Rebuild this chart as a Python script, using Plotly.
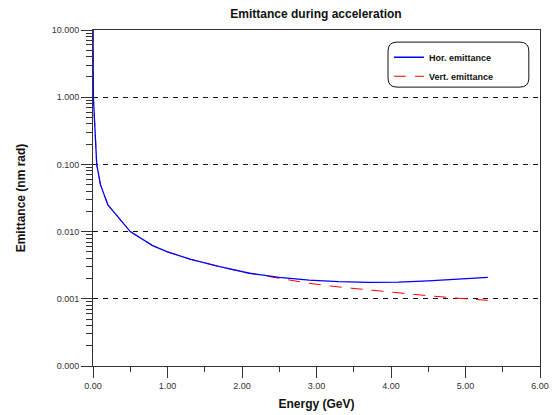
import plotly.graph_objects as go

energy = [0.0005, 0.005, 0.05, 0.1, 0.2, 0.5, 0.8, 1.0, 1.3, 1.7, 2.1, 2.5, 2.9, 3.3, 3.7, 4.1, 4.5, 4.9, 5.3]
hor_emit = [10, 1.0, 0.1, 0.05, 0.025, 0.010, 0.0062, 0.0050, 0.0039, 0.0030, 0.0024,
            0.00208, 0.0019, 0.00180, 0.00176, 0.00177, 0.00185, 0.00196, 0.00209]
vert_emit = [10, 1.0, 0.1, 0.05, 0.025, 0.010, 0.0062, 0.0050, 0.0039, 0.0030, 0.0024,
             0.0020, 0.0017, 0.0015, 0.00135, 0.00122, 0.00111, 0.00102, 0.00095]

y_tickvals = [0.0001, 0.001, 0.01, 0.1, 1, 10]
y_ticktext = ["0.000", "0.001", "0.010", "0.100", "1.000", "10.000"]
y_minor = [m * 10 ** e for e in range(-4, 1) for m in range(2, 10)]

font_family = "Liberation Sans, Arial, sans-serif"

# page body has an 8px margin, so the figure is sized to fill the rest of the window
W, H = 551, 407

fig = go.Figure()
fig.add_trace(go.Scatter(x=energy, y=vert_emit, mode="lines", name="Vert. emittance",
                         line=dict(color="#ff0000", width=1, dash="12px,9px"),
                         legendrank=2))
fig.add_trace(go.Scatter(x=energy, y=hor_emit, mode="lines", name="Hor. emittance",
                         line=dict(color="#0000ff", width=1.3),
                         legendrank=1))

x0, x1, y0, y1 = 0.66, 0.975, 0.83, 0.964
r = 0.02
ry = r * 447 / 336
box = (f"M {x0+r},{y1} L {x1-r},{y1} Q {x1},{y1} {x1},{y1-ry} L {x1},{y0+ry} Q {x1},{y0} {x1-r},{y0} "
       f"L {x0+r},{y0} Q {x0},{y0} {x0},{y0+ry} L {x0},{y1-ry} Q {x0},{y1} {x0+r},{y1} Z")

fig.update_layout(
    width=W, height=H,
    margin=dict(l=85, r=19, t=22, b=49, autoexpand=False),
    paper_bgcolor="white", plot_bgcolor="white",
    font=dict(family=font_family, color="#222"),
    title=dict(text="Emittance during acceleration", x=(316 - 8) / W, xanchor="center",
               y=1 - 6 / H, yanchor="middle",
               font=dict(size=12, weight="bold", color="#111")),
    showlegend=True,
    legend=dict(x=0.662, y=0.962, xanchor="left", yanchor="top",
                bgcolor="rgba(255,255,255,0)", borderwidth=0,
                font=dict(size=9, weight="bold", color="#111"),
                itemwidth=30, tracegroupgap=0),
    shapes=[dict(type="path", xref="paper", yref="paper", path=box,
                 line=dict(color="#111", width=1), layer="above")],
)

fig.update_xaxes(
    range=[0, 6], dtick=1, tickformat=".2f", automargin=False,
    showline=True, linecolor="#333", linewidth=1, mirror=True,
    ticks="outside", ticklen=11, tickcolor="#333",
    minor=dict(dtick=0.5, ticks="outside", ticklen=5, tickcolor="#333", showgrid=False),
    showgrid=False, zeroline=False,
    tickfont=dict(size=9, color="#333"),
    title=dict(text="Energy (GeV)", font=dict(size=12, weight="bold", color="#111"), standoff=9),
)
fig.update_yaxes(
    type="log", range=[-4, 1], automargin=False,
    tickmode="array", tickvals=y_tickvals, ticktext=y_ticktext,
    showline=True, linecolor="#333", linewidth=1, mirror=True,
    ticks="outside", ticklen=11, tickcolor="#333",
    minor=dict(tickmode="array", tickvals=y_minor, ticks="outside", ticklen=6, tickcolor="#333", showgrid=False),
    showgrid=True, gridcolor="#111", gridwidth=1, griddash="5px,5px",
    zeroline=False,
    tickfont=dict(size=9, color="#333"),
    title=dict(text="Emittance (nm rad)", font=dict(size=12, weight="bold", color="#111"), standoff=23),
)

fig.write_html("out.html")
